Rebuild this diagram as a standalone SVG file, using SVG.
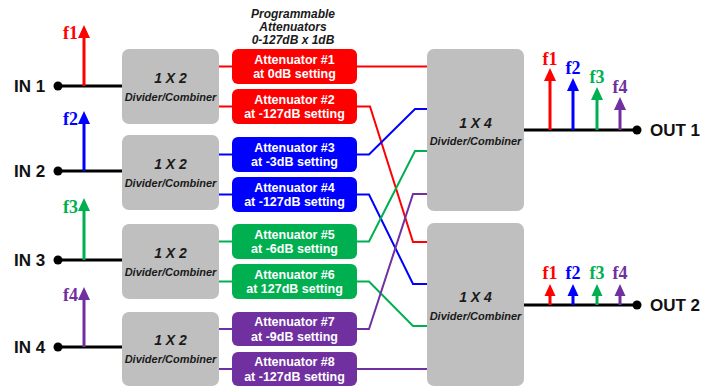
<svg xmlns="http://www.w3.org/2000/svg" xmlns:xlink="http://www.w3.org/1999/xlink" width="715" height="390" viewBox="0 0 715 390">
<style>
.box{fill:#bfbfbf}
.att text{fill:#fff;font-family:"Liberation Sans",Arial,sans-serif;font-weight:bold;font-size:12.5px;text-anchor:middle}
.bt{font-family:"Liberation Sans",Arial,sans-serif;font-weight:bold;font-style:italic;fill:#1a1a1a;text-anchor:middle}
.big{font-size:14px}
.small{font-size:11px}
.io{font-family:"Liberation Sans",Arial,sans-serif;font-weight:bold;font-size:17px;fill:#111}
.fl{font-family:"Liberation Serif","Times New Roman",serif;font-weight:bold;font-size:18px}
.w{fill:none;stroke-width:2}
.blk{stroke:#000;stroke-width:3;fill:none}
.stem{stroke-width:3;fill:none}
.r{stroke:#ff0000;fill:#ff0000}
.b{stroke:#0000ff;fill:#0000ff}
.g{stroke:#00b050;fill:#00b050}
.p{stroke:#7030a0;fill:#7030a0}
.rt{fill:#ff0000}.btx{fill:#0000ff}.gt{fill:#00b050}.pt{fill:#7030a0}
</style>
<defs>
<path id="ah" d="M0,0 L6,13 L-6,13 Z"/>
<path id="ahs" d="M0,0 L5.5,12 L-5.5,12 Z"/>
</defs>

<g id="title">
<text class="bt" x="293" y="18" font-size="12px">Programmable</text>
<text class="bt" x="293" y="31" font-size="12px">Attenuators</text>
<text class="bt" x="293" y="44" font-size="12px">0-127dB x 1dB</text>
</g>

<g id="connectors">
<line class="blk" x1="58" y1="86" x2="122" y2="86"/>
<line class="blk" x1="58" y1="171" x2="122" y2="171"/>
<line class="blk" x1="58" y1="260" x2="122" y2="260"/>
<line class="blk" x1="58" y1="347" x2="122" y2="347"/>
<line class="w r" x1="219" y1="66.5" x2="232" y2="66.5"/>
<line class="w r" x1="219" y1="106.5" x2="232" y2="106.5"/>
<line class="w b" x1="219" y1="154.5" x2="232" y2="154.5"/>
<line class="w b" x1="219" y1="194.5" x2="232" y2="194.5"/>
<line class="w g" x1="219" y1="241.5" x2="232" y2="241.5"/>
<line class="w g" x1="219" y1="281.5" x2="232" y2="281.5"/>
<line class="w p" x1="219" y1="329" x2="232" y2="329"/>
<line class="w p" x1="219" y1="369" x2="232" y2="369"/>
<polyline class="w r" style="fill:none" points="357,66.5 427,66.5"/>
<polyline class="w r" style="fill:none" points="357,106.5 370,106.5 413,242 427,242"/>
<polyline class="w b" style="fill:none" points="357,154.5 369,154.5 415,109 427,109"/>
<polyline class="w b" style="fill:none" points="357,194.5 369,194.5 413,284 427,284"/>
<polyline class="w g" style="fill:none" points="357,241.5 369,241.5 415,151 427,151"/>
<polyline class="w g" style="fill:none" points="357,281.5 369,281.5 413,326 427,326"/>
<polyline class="w p" style="fill:none" points="357,329 369,329 413,194 427,194"/>
<polyline class="w p" style="fill:none" points="357,369 427,369"/>
<line class="blk" x1="524" y1="130" x2="637" y2="130"/>
<line class="blk" x1="524" y1="305" x2="637" y2="305"/>
</g>

<g id="in1">
<circle cx="58" cy="86" r="4.5" fill="#000"/>
<text class="io" x="14" y="92">IN 1</text>
<line class="stem r" x1="84" y1="86" x2="84" y2="36"/>
<use href="#ah" x="84" y="25" fill="#ff0000"/>
<text class="fl rt" x="78" y="39" text-anchor="end">f1</text>
</g>
<g id="in2">
<circle cx="58" cy="171" r="4.5" fill="#000"/>
<text class="io" x="14" y="177">IN 2</text>
<line class="stem b" x1="84" y1="171" x2="84" y2="122"/>
<use href="#ah" x="84" y="111" fill="#0000ff"/>
<text class="fl btx" x="78" y="125" text-anchor="end">f2</text>
</g>
<g id="in3">
<circle cx="58" cy="260" r="4.5" fill="#000"/>
<text class="io" x="14" y="266">IN 3</text>
<line class="stem g" x1="84" y1="260" x2="84" y2="209"/>
<use href="#ah" x="84" y="198" fill="#00b050"/>
<text class="fl gt" x="78" y="213" text-anchor="end">f3</text>
</g>
<g id="in4">
<circle cx="58" cy="347" r="4.5" fill="#000"/>
<text class="io" x="14" y="353">IN 4</text>
<line class="stem p" x1="84" y1="347" x2="84" y2="298"/>
<use href="#ah" x="84" y="287" fill="#7030a0"/>
<text class="fl pt" x="78" y="301" text-anchor="end">f4</text>
</g>

<g id="div1"><rect class="box" x="122" y="49" width="97" height="75" rx="7"/><text class="bt big" x="170.5" y="83">1 X 2</text><text class="bt small" x="170.5" y="101">Divider/Combiner</text></g>
<g id="div2"><rect class="box" x="122" y="135" width="97" height="75" rx="7"/><text class="bt big" x="170.5" y="169">1 X 2</text><text class="bt small" x="170.5" y="187">Divider/Combiner</text></g>
<g id="div3"><rect class="box" x="122" y="224" width="97" height="75" rx="7"/><text class="bt big" x="170.5" y="258">1 X 2</text><text class="bt small" x="170.5" y="276">Divider/Combiner</text></g>
<g id="div4"><rect class="box" x="122" y="312" width="97" height="74" rx="7"/><text class="bt big" x="170.5" y="345">1 X 2</text><text class="bt small" x="170.5" y="363">Divider/Combiner</text></g>

<g id="att1" class="att"><rect x="232" y="49" width="125" height="35" rx="6" fill="#ff0000"/><text x="294.5" y="63.5">Attenuator #1</text><text x="294.5" y="78">at 0dB setting</text></g>
<g id="att2" class="att"><rect x="232" y="89" width="125" height="35" rx="6" fill="#ff0000"/><text x="294.5" y="103.5">Attenuator #2</text><text x="294.5" y="118">at -127dB setting</text></g>
<g id="att3" class="att"><rect x="232" y="137" width="125" height="35" rx="6" fill="#0000ff"/><text x="294.5" y="151.5">Attenuator #3</text><text x="294.5" y="166">at -3dB setting</text></g>
<g id="att4" class="att"><rect x="232" y="177" width="125" height="35" rx="6" fill="#0000ff"/><text x="294.5" y="191.5">Attenuator #4</text><text x="294.5" y="206">at -127dB setting</text></g>
<g id="att5" class="att"><rect x="232" y="224" width="125" height="35" rx="6" fill="#00b050"/><text x="294.5" y="238.5">Attenuator #5</text><text x="294.5" y="253">at -6dB setting</text></g>
<g id="att6" class="att"><rect x="232" y="264" width="125" height="35" rx="6" fill="#00b050"/><text x="294.5" y="278.5">Attenuator #6</text><text x="294.5" y="293">at 127dB setting</text></g>
<g id="att7" class="att"><rect x="232" y="312" width="125" height="34" rx="6" fill="#7030a0"/><text x="294.5" y="326">Attenuator #7</text><text x="294.5" y="340.5">at -9dB setting</text></g>
<g id="att8" class="att"><rect x="232" y="352" width="125" height="34" rx="6" fill="#7030a0"/><text x="294.5" y="366">Attenuator #8</text><text x="294.5" y="380.5">at -127dB setting</text></g>

<g id="comb1"><rect class="box" x="427" y="49" width="97" height="162" rx="7"/><text class="bt big" x="475.5" y="128">1 X 4</text><text class="bt small" x="475.5" y="145">Divider/Combiner</text></g>
<g id="comb2"><rect class="box" x="427" y="223" width="97" height="163" rx="7"/><text class="bt big" x="475.5" y="302">1 X 4</text><text class="bt small" x="475.5" y="320">Divider/Combiner</text></g>

<g id="out1">
<circle cx="637" cy="130" r="4.5" fill="#000"/>
<text class="io" x="650" y="136">OUT 1</text>
<line class="stem r" x1="550" y1="130" x2="550" y2="79"/><use href="#ah" x="550" y="68" fill="#ff0000"/><text class="fl rt" x="550" y="65" text-anchor="middle">f1</text>
<line class="stem b" x1="573" y1="130" x2="573" y2="89"/><use href="#ah" x="573" y="78" fill="#0000ff"/><text class="fl btx" x="573" y="74" text-anchor="middle">f2</text>
<line class="stem g" x1="597" y1="130" x2="597" y2="98"/><use href="#ah" x="597" y="87" fill="#00b050"/><text class="fl gt" x="597" y="83" text-anchor="middle">f3</text>
<line class="stem p" x1="620" y1="130" x2="620" y2="108"/><use href="#ah" x="620" y="97" fill="#7030a0"/><text class="fl pt" x="620" y="93" text-anchor="middle">f4</text>
</g>
<g id="out2">
<circle cx="637" cy="305" r="4.5" fill="#000"/>
<text class="io" x="650" y="311">OUT 2</text>
<line class="stem r" x1="550" y1="305" x2="550" y2="294"/><use href="#ahs" x="550" y="284" fill="#ff0000"/><text class="fl rt" x="550" y="279" text-anchor="middle">f1</text>
<line class="stem b" x1="573" y1="305" x2="573" y2="294"/><use href="#ahs" x="573" y="284" fill="#0000ff"/><text class="fl btx" x="573" y="279" text-anchor="middle">f2</text>
<line class="stem g" x1="597" y1="305" x2="597" y2="294"/><use href="#ahs" x="597" y="284" fill="#00b050"/><text class="fl gt" x="597" y="279" text-anchor="middle">f3</text>
<line class="stem p" x1="620" y1="305" x2="620" y2="294"/><use href="#ahs" x="620" y="284" fill="#7030a0"/><text class="fl pt" x="620" y="279" text-anchor="middle">f4</text>
</g>
</svg>
